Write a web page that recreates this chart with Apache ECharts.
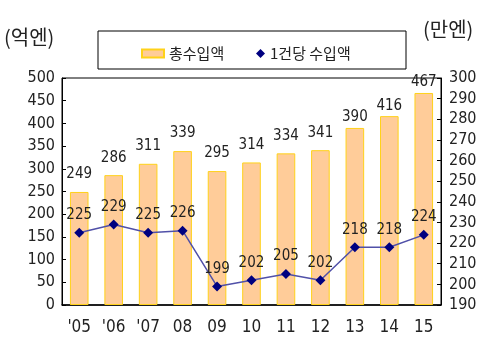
<!DOCTYPE html>
<html><head><meta charset="utf-8">
<script src="https://cdn.jsdelivr.net/npm/echarts@6/dist/echarts.min.js"></script>
<style>html,body{margin:0;padding:0;background:#fff}#c{width:501px;height:351px}</style>
</head><body><div id="c"></div>
<script>
const categories = ["'05","'06","'07","08","09","10","11","12","13","14","15"];
const totalIncome = [249,286,311,339,295,314,334,341,390,416,467];
const perCase = [225,229,225,226,199,202,205,202,218,218,224];
const barName = "총수입액";
const lineName = "1건당 수입액";
const leftUnit = "(억엔)";
const rightUnit = "(만엔)";

const narrow = '"DejaVu Sans Condensed", "Liberation Sans Narrow", "Liberation Sans", sans-serif';
const kfont = '"Noto Sans CJK KR", sans-serif';
const barData = totalIncome.map((v, i) => i >= 8 ? {value: v, label: {distance: 3}} : v);
const chart = echarts.init(document.getElementById('c'), null, {renderer:'canvas'});
chart.setOption({
  animation:false,
  graphic:[
    {type:'text', left:4, top:27, style:{text:leftUnit, font:'20px '+kfont, fill:'#222'}},
    {type:'text', left:423, top:19, style:{text:rightUnit, font:'20px '+kfont, fill:'#222'}},
    {type:'rect', shape:{x:98,y:31,width:308,height:38}, style:{fill:'none', stroke:'#000', lineWidth:1}}
  ],
  legend:[
    {top:41, left:136, itemWidth:22, itemHeight:8,
     textStyle:{fontFamily:kfont, fontSize:15, color:'#222'},
     data:[{name:barName, icon:'rect'}]},
    {top:41, left:251, itemWidth:9, itemHeight:9, itemGap:4,
     textStyle:{fontFamily:kfont, fontSize:15, color:'#222'},
     data:[{name:lineName, icon:'diamond'}]}
  ],
  grid:{left:62, right:60, top:78, bottom:46, show:true, borderColor:'#000', borderWidth:1},
  xAxis:{
    type:'category', data:categories,
    axisLine:{lineStyle:{color:'#000', width:1.5}},
    axisTick:{inside:true, length:6, lineStyle:{color:'#000'}},
    axisLabel:{fontFamily:narrow, fontSize:17, color:'#222', margin:14}
  },
  yAxis:[
    {type:'value', min:0, max:500, interval:50,
     axisLine:{show:true, lineStyle:{color:'#000'}},
     axisTick:{show:true, inside:true, length:4, lineStyle:{color:'#000'}},
     splitLine:{show:false},
     axisLabel:{fontFamily:narrow, fontSize:16, color:'#222', margin:7}},
    {type:'value', min:190, max:300, interval:10,
     axisLine:{show:true, lineStyle:{color:'#000'}},
     axisTick:{show:true, inside:true, length:4, lineStyle:{color:'#000'}},
     splitLine:{show:false},
     axisLabel:{fontFamily:narrow, fontSize:16, color:'#222', margin:8}}
  ],
  series:[
    {name:barName, type:'bar', data:barData, barWidth:'54%',
     itemStyle:{color:'#FFCC99', borderColor:'#FFD21A', borderWidth:1},
     label:{show:true, position:'top', distance:10, fontFamily:narrow, fontSize:15, color:'#222'}},
    {name:lineName, type:'line', yAxisIndex:1, data:perCase,
     symbol:'diamond', symbolSize:10,
     lineStyle:{color:'#5050A8', width:1.5},
     itemStyle:{color:'#000080'},
     label:{show:true, position:'top', distance:5, fontFamily:narrow, fontSize:15, color:'#222'}}
  ]
});
</script></body></html>
